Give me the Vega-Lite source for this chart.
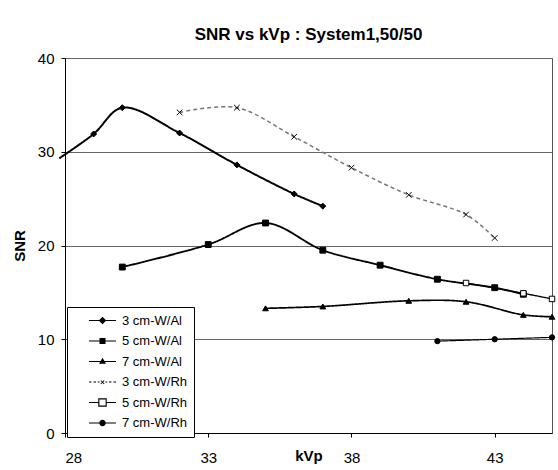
{
  "$schema": "https://vega.github.io/schema/vega-lite/v6.json",
  "width": 487,
  "height": 375,
  "autosize": {"type": "none"},
  "padding": {"left": 65, "top": 58, "right": 6, "bottom": 37},
  "background": "white",
  "title": {"text": "SNR vs kVp : System1,50/50", "fontSize": 17, "fontWeight": "bold", "font": "Liberation Sans", "offset": 7, "anchor": "middle", "color": "black"},
  "config": {
    "font": "Liberation Sans",
    "view": {"stroke": "#555", "strokeWidth": 1}
  },
  "data": {"values": [
    {"s": "3 cm-W/Al", "kVp": 27.8, "SNR": 29.3},
    {"s": "3 cm-W/Al", "kVp": 29, "SNR": 31.9},
    {"s": "3 cm-W/Al", "kVp": 30, "SNR": 34.7},
    {"s": "3 cm-W/Al", "kVp": 32, "SNR": 32.0},
    {"s": "3 cm-W/Al", "kVp": 34, "SNR": 28.6},
    {"s": "3 cm-W/Al", "kVp": 36, "SNR": 25.5},
    {"s": "3 cm-W/Al", "kVp": 37, "SNR": 24.2},
    {"s": "5 cm-W/Al", "kVp": 30, "SNR": 17.7},
    {"s": "5 cm-W/Al", "kVp": 33, "SNR": 20.1},
    {"s": "5 cm-W/Al", "kVp": 35, "SNR": 22.4},
    {"s": "5 cm-W/Al", "kVp": 37, "SNR": 19.5},
    {"s": "5 cm-W/Al", "kVp": 39, "SNR": 17.9},
    {"s": "5 cm-W/Al", "kVp": 41, "SNR": 16.4},
    {"s": "5 cm-W/Al", "kVp": 43, "SNR": 15.5},
    {"s": "5 cm-W/Al", "kVp": 44, "SNR": 14.8},
    {"s": "7 cm-W/Al", "kVp": 35, "SNR": 13.3},
    {"s": "7 cm-W/Al", "kVp": 37, "SNR": 13.5},
    {"s": "7 cm-W/Al", "kVp": 40, "SNR": 14.1},
    {"s": "7 cm-W/Al", "kVp": 42, "SNR": 14.0},
    {"s": "7 cm-W/Al", "kVp": 44, "SNR": 12.6},
    {"s": "7 cm-W/Al", "kVp": 45, "SNR": 12.4},
    {"s": "3 cm-W/Rh", "kVp": 32, "SNR": 34.2},
    {"s": "3 cm-W/Rh", "kVp": 34, "SNR": 34.7},
    {"s": "3 cm-W/Rh", "kVp": 36, "SNR": 31.6},
    {"s": "3 cm-W/Rh", "kVp": 38, "SNR": 28.3},
    {"s": "3 cm-W/Rh", "kVp": 40, "SNR": 25.4},
    {"s": "3 cm-W/Rh", "kVp": 42, "SNR": 23.3},
    {"s": "3 cm-W/Rh", "kVp": 43, "SNR": 20.8},
    {"s": "5 cm-W/Rh", "kVp": 42, "SNR": 16.0},
    {"s": "5 cm-W/Rh", "kVp": 44, "SNR": 14.9},
    {"s": "5 cm-W/Rh", "kVp": 45, "SNR": 14.3},
    {"s": "7 cm-W/Rh", "kVp": 41, "SNR": 9.8},
    {"s": "7 cm-W/Rh", "kVp": 43, "SNR": 10.0},
    {"s": "7 cm-W/Rh", "kVp": 45, "SNR": 10.2}
  ]},
  "encoding": {
    "x": {"field": "kVp", "type": "quantitative",
      "scale": {"domain": [28, 45], "nice": false, "zero": false},
      "axis": {"title": "kVp", "values": [28, 33, 38, 43], "grid": false, "domainColor": "black", "tickColor": "black", "tickSize": 4,
        "labelFontSize": 15, "labelPadding": 13, "labelColor": "black",
        "titleFontSize": 15, "titleFontWeight": "bold", "titleColor": "black", "titleY": 27, "titleBaseline": "alphabetic"}},
    "y": {"field": "SNR", "type": "quantitative",
      "scale": {"domain": [0, 40], "nice": false},
      "axis": {"title": "SNR", "values": [0, 10, 20, 30, 40], "grid": true, "gridColor": "#666", "gridWidth": 1,
        "domainColor": "black", "tickColor": "black", "tickSize": 4,
        "labelFontSize": 15, "labelPadding": 7, "labelColor": "black",
        "titleFontSize": 15, "titleFontWeight": "bold", "titleColor": "black", "titlePadding": 10}}
  },
  "layer": [
    {
      "mark": {"type": "line", "interpolate": "catmull-rom", "clip": false},
      "encoding": {
        "detail": {"field": "s", "type": "nominal"},
        "strokeWidth": {"field": "s", "type": "nominal", "legend": null,
          "scale": {"domain": ["3 cm-W/Al", "5 cm-W/Al", "7 cm-W/Al", "3 cm-W/Rh", "5 cm-W/Rh", "7 cm-W/Rh"], "range": [2, 1.2, 1.2, 1, 1.2, 1.2]}},
        "strokeDash": {"field": "s", "type": "nominal", "legend": null,
          "scale": {"domain": ["3 cm-W/Al", "5 cm-W/Al", "7 cm-W/Al", "3 cm-W/Rh", "5 cm-W/Rh", "7 cm-W/Rh"], "range": [[1, 0], [1, 0], [1, 0], [4, 3], [1, 0], [1, 0]]}},
        "color": {"field": "s", "type": "nominal", "legend": null,
          "scale": {"domain": ["3 cm-W/Al", "5 cm-W/Al", "7 cm-W/Al", "3 cm-W/Rh", "5 cm-W/Rh", "7 cm-W/Rh"], "range": ["black", "black", "black", "#777", "black", "black"]}}
      }
    },
    {
      "transform": [{"filter": "datum.kVp >= 28"}],
      "mark": {"type": "point", "filled": true, "stroke": "black", "strokeWidth": 1, "opacity": 1},
      "encoding": {
        "shape": {"field": "s", "type": "nominal", "legend": null,
          "scale": {"domain": ["3 cm-W/Al", "5 cm-W/Al", "7 cm-W/Al", "3 cm-W/Rh", "5 cm-W/Rh", "7 cm-W/Rh"], "range": ["diamond", "square", "triangle-up", "M-1,-1L1,1M-1,1L1,-1", "square", "circle"]}},
        "fill": {"field": "s", "type": "nominal", "legend": null,
          "scale": {"domain": ["3 cm-W/Al", "5 cm-W/Al", "7 cm-W/Al", "3 cm-W/Rh", "5 cm-W/Rh", "7 cm-W/Rh"], "range": ["black", "black", "black", "black", "white", "black"]}},
        "size": {"field": "s", "type": "nominal", "legend": null,
          "scale": {"domain": ["3 cm-W/Al", "5 cm-W/Al", "7 cm-W/Al", "3 cm-W/Rh", "5 cm-W/Rh", "7 cm-W/Rh"], "range": [36, 28, 34, 28, 64, 30]}}
      }
    },
    {
      "mark": {"type": "point", "filled": true, "color": "black", "strokeWidth": 0, "size": 0},
      "encoding": {
        "shape": {"field": "s", "type": "nominal",
          "scale": {"domain": ["3 cm-W/Al", "5 cm-W/Al", "7 cm-W/Al", "3 cm-W/Rh", "5 cm-W/Rh", "7 cm-W/Rh"],
            "range": [
              "M-2.7,-0.1L2.7,-0.1L2.7,0.1L-2.7,0.1ZM0,-0.75L0.75,0L0,0.75L-0.75,0Z",
              "M-2.7,-0.1L2.7,-0.1L2.7,0.1L-2.7,0.1ZM-0.6,-0.6L0.6,-0.6L0.6,0.6L-0.6,0.6Z",
              "M-2.7,-0.1L2.7,-0.1L2.7,0.1L-2.7,0.1ZM0,-0.75L0.7,0.45L-0.7,0.45Z",
              "M-2.7,-0.08L-2.2,-0.08L-2.2,0.08L-2.7,0.08ZM-1.8,-0.08L-1.3,-0.08L-1.3,0.08L-1.8,0.08ZM-0.95,-0.08L-0.6,-0.08L-0.6,0.08L-0.95,0.08ZM0.6,-0.08L0.95,-0.08L0.95,0.08L0.6,0.08ZM1.3,-0.08L1.8,-0.08L1.8,0.08L1.3,0.08ZM2.2,-0.08L2.7,-0.08L2.7,0.08L2.2,0.08ZM-0.4,-0.25L-0.28,-0.37L0.4,0.31L0.28,0.43ZM-0.4,0.31L0.28,-0.37L0.4,-0.25L-0.28,0.43Z",
              "M-2.7,-0.1L-0.85,-0.1L-0.85,0.1L-2.7,0.1ZM0.85,-0.1L2.7,-0.1L2.7,0.1L0.85,0.1ZM-0.85,-0.85L0.85,-0.85L0.85,0.85L-0.85,0.85ZM-0.62,-0.62L-0.62,0.62L0.62,0.62L0.62,-0.62Z",
              "M-2.7,-0.1L-0.64,-0.1L-0.64,0.1L-2.7,0.1ZM0.64,-0.1L2.7,-0.1L2.7,0.1L0.64,0.1ZM-0.65,0A0.65,0.65,0,1,0,0.65,0A0.65,0.65,0,1,0,-0.65,0Z"
            ]},
          "legend": {"orient": "none", "legendX": 2, "legendY": 249, "title": null,
            "symbolSize": 100, "symbolOpacity": 1, "symbolFillColor": "black", "symbolStrokeWidth": 0,
            "labelFontSize": 13, "labelColor": "black", "labelOffset": 13, "symbolOffset": 22,
            "padding": 7, "rowPadding": 6.5, "strokeColor": "black", "fillColor": "white", "cornerRadius": 0}}
      }
    }
  ],
  "resolve": {"scale": {"shape": "independent"}, "legend": {"shape": "independent"}}
}
